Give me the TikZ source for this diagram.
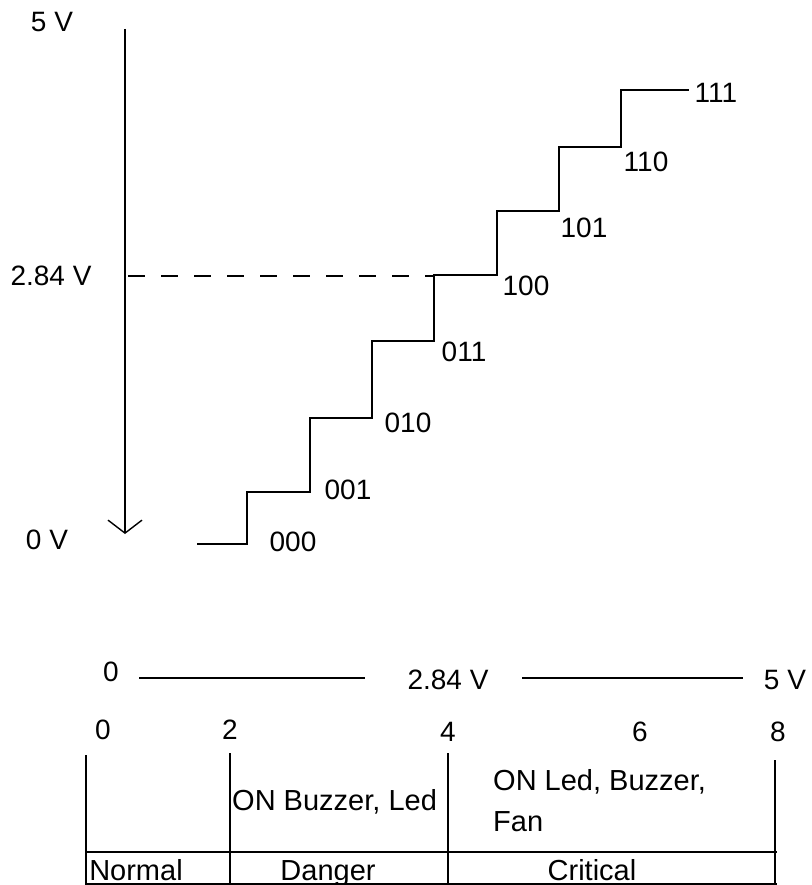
\documentclass[tikz,border=0pt]{standalone}
\usepackage{fontspec}
\setmainfont{Liberation Sans}
\usetikzlibrary{arrows.meta}
\begin{document}
\begin{tikzpicture}[x=1pt,y=-1pt,
  lbl/.style={inner sep=0pt,font=\fontsize{28}{40}\selectfont},
  tlbl/.style={inner sep=0pt,font=\fontsize{29}{41}\selectfont},
  ln/.style={line width=1.6pt},
  thin/.style={line width=1.3pt}]
\useasboundingbox (0,0) rectangle (811,885);
% vertical axis with arrow
\coordinate (atop) at (125,29);
\coordinate (abot) at (125,534);
\draw[ln,-{Straight Barb[length=13pt,width=34pt,line width=1.4pt]}] (atop) -- (abot);
% axis labels
\node[lbl] (v5) at (52,22) {5 V};
\node[lbl] (v284) at (51,276) {2.84 V};
\node[lbl] (v0) at (47,540) {0 V};
% dashed level
\coordinate (dA) at (128,276);
\coordinate (dB) at (434,276);
\draw[thin,dash pattern=on 17pt off 16pt] (dA) -- (dB);
% staircase
\draw[ln] (197,544) -- (247,544) -- (247,492) -- (310,492) -- (310,418)
  -- (372,418) -- (372,341) -- (434,341) -- (434,275) -- (497,275)
  -- (497,211) -- (559,211) -- (559,147) -- (621,147) -- (621,90) -- (689,90);
% codes
\node[lbl] (c0) at (293,542) {000};
\node[lbl] (c1) at (348,490) {001};
\node[lbl] (c2) at (408,423) {010};
\node[lbl] (c3) at (464,352) {011};
\node[lbl] (c4) at (526,286) {100};
\node[lbl] (c5) at (584,228) {101};
\node[lbl] (c6) at (646,162) {110};
\node[lbl] (c7) at (716,93) {111};
% voltage scale
\node[lbl] (s0) at (111,672) {0};
\node[lbl] (s284) at (448,680) {2.84 V};
\node[lbl] (s5) at (785,680) {5 V};
\coordinate (l1a) at (139,678);
\coordinate (l1b) at (365,678);
\coordinate (l2a) at (522,678);
\coordinate (l2b) at (743,678);
\draw[thin] (l1a) -- (l1b);
\draw[thin] (l2a) -- (l2b);
% code numbers
\node[lbl] (n0) at (103,730) {0};
\node[lbl] (n2) at (230,730) {2};
\node[lbl] (n4) at (448,732) {4};
\node[lbl] (n6) at (640,732) {6};
\node[lbl] (n8) at (778,732) {8};
% table
\draw[thin] (86,755) -- (86,885);
\draw[thin] (230,753) -- (230,885);
\draw[thin] (448,753) -- (448,885);
\draw[thin] (775,760) -- (775,885);
\draw[ln] (86,852) -- (777,852);
\draw[thin] (86,884) -- (777,884);
\node[tlbl,anchor=west] (t1) at (232,802) {ON Buzzer, Led};
\node[tlbl,anchor=north west,align=left] (t2) at (493,769) {ON Led, Buzzer,\\Fan};
\node[tlbl,anchor=base] (r1) at (136,880) {Normal};
\node[tlbl,anchor=base] (r2) at (328,880) {Danger};
\node[tlbl,anchor=base] (r3) at (592,880) {Critical};
\end{tikzpicture}
\end{document}
